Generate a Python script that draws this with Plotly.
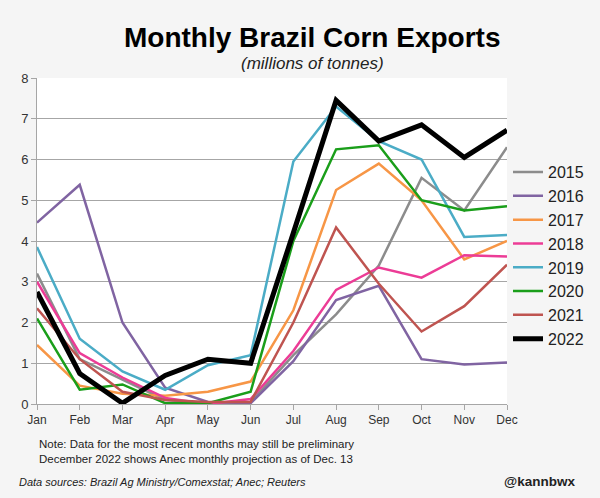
import plotly.graph_objects as go

months = ["Jan", "Feb", "Mar", "Apr", "May", "Jun", "Jul", "Aug", "Sep", "Oct", "Nov", "Dec"]

exports_2015 = [3.2, 1.1, 0.6, 0.1, 0.02, 0.05, 1.2, 2.2, 3.4, 5.55, 4.75, 6.3]
exports_2016 = [4.45, 5.38, 2.0, 0.4, 0.05, 0.02, 1.05, 2.55, 2.9, 1.1, 0.97, 1.02]
exports_2017 = [1.45, 0.45, 0.25, 0.2, 0.3, 0.55, 2.3, 5.25, 5.9, 5.0, 3.55, 4.0]
exports_2018 = [3.0, 1.25, 0.65, 0.15, 0.0, 0.12, 1.3, 2.8, 3.35, 3.1, 3.65, 3.62]
exports_2019 = [3.85, 1.6, 0.8, 0.35, 0.95, 1.2, 5.95, 7.3, 6.45, 6.0, 4.1, 4.15]
exports_2020 = [2.1, 0.35, 0.48, 0.02, 0.02, 0.3, 4.0, 6.25, 6.35, 5.0, 4.75, 4.85]
exports_2021 = [2.35, 1.1, 0.3, 0.1, 0.05, 0.05, 2.0, 4.33, 2.95, 1.78, 2.4, 3.42]
exports_2022 = [2.75, 0.75, 0.02, 0.7, 1.1, 1.0, 4.2, 7.45, 6.45, 6.85, 6.05, 6.72]

series = [
    ("2015", exports_2015, "#8c8c8c", 2.5),
    ("2016", exports_2016, "#8064a2", 2.5),
    ("2017", exports_2017, "#f79646", 2.5),
    ("2018", exports_2018, "#ec3c96", 2.5),
    ("2019", exports_2019, "#4bacc6", 2.5),
    ("2020", exports_2020, "#1a9e1a", 2.5),
    ("2021", exports_2021, "#bf5450", 2.5),
    ("2022", exports_2022, "#000000", 5),
]

fig = go.Figure()
for name, vals, color, width in series:
    fig.add_trace(go.Scatter(
        x=months, y=vals, name=name, mode="lines",
        line=dict(color=color, width=width),
    ))

font_family = "Liberation Sans, Arial, sans-serif"

fig.update_layout(
    width=600, height=498,
    margin=dict(l=37, r=92, t=78, b=94),
    paper_bgcolor="#f5f5f5",
    plot_bgcolor="#ffffff",
    font=dict(family=font_family, color="#222222", size=12),
    showlegend=True,
    legend=dict(
        x=1.0, y=0.455, xanchor="left", yanchor="middle",
        font=dict(size=16, color="#222222"),
        bgcolor="rgba(0,0,0,0)",
        itemwidth=30,
        tracegroupgap=0,
    ),
    xaxis=dict(
        showgrid=False, showline=True, linecolor="#a6a6a6", linewidth=1,
        ticks="outside", ticklen=5, tickcolor="#a6a6a6",
        tickfont=dict(size=12, color="#333333"),
        range=[0, 11],
    ),
    yaxis=dict(
        range=[0, 8], dtick=1, showgrid=True, gridcolor="#a6a6a6", gridwidth=1,
        showline=True, linecolor="#a6a6a6", linewidth=1,
        ticks="outside", ticklen=5, tickcolor="#a6a6a6",
        tickfont=dict(size=13, color="#333333"),
        zeroline=False,
    ),
)

# title and subtitle
fig.add_annotation(text="<b>Monthly Brazil Corn Exports</b>", xref="paper", yref="paper",
                   x=0.586, y=1.0, yshift=58, showarrow=False,
                   font=dict(size=28, color="#000000", family=font_family))
fig.add_annotation(text="<i>(millions of tonnes)</i>", xref="paper", yref="paper",
                   x=0.586, y=1.0, yshift=26, showarrow=False,
                   font=dict(size=17, color="#222222", family=font_family))

# footnotes
fig.add_annotation(text="Note: Data for the most recent months may still be preliminary<br>"
                        "December 2022 shows Anec monthly projection as of Dec. 13",
                   xref="paper", yref="paper", x=0.0, y=0.0, xanchor="left", yanchor="top",
                   xshift=0, yshift=-32, showarrow=False, align="left",
                   font=dict(size=11.5, color="#222222", family=font_family))
fig.add_annotation(text="<i>Data sources: Brazil Ag Ministry/Comexstat; Anec; Reuters</i>",
                   xref="paper", yref="paper", x=0.0, y=0.0, xanchor="left", yanchor="top",
                   xshift=-20, yshift=-70, showarrow=False, align="left",
                   font=dict(size=11, color="#222222", family=font_family))
fig.add_annotation(text="<b>@kannbwx</b>", xref="paper", yref="paper",
                   x=1.0, y=0.0, xanchor="right", yanchor="top",
                   xshift=70, yshift=-68, showarrow=False,
                   font=dict(size=13.5, color="#222222", family=font_family))

fig.write_html("out.html", config={"displayModeBar": False},
               post_script="document.body.style.margin='0';document.body.style.background='#f5f5f5';")
